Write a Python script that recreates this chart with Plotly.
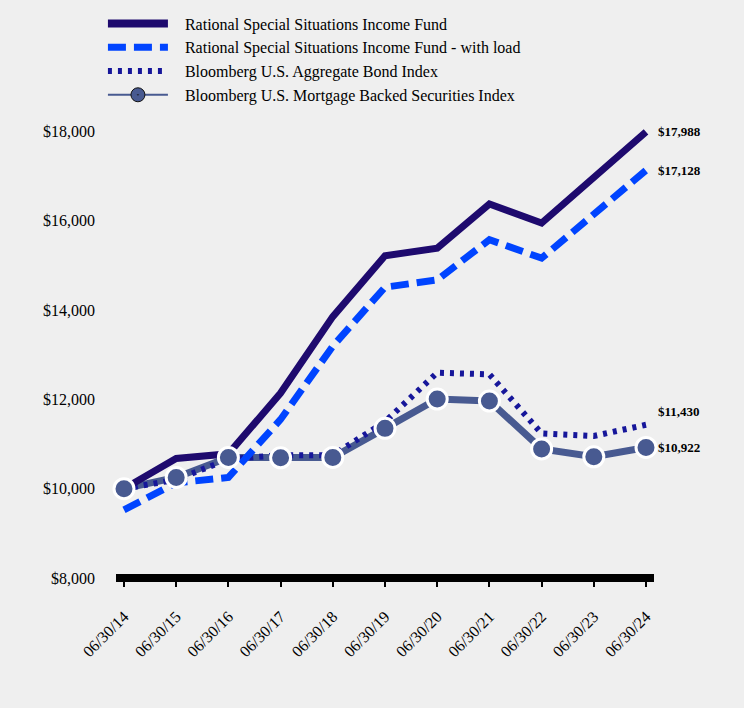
import plotly.graph_objects as go

dates = ["06/30/14", "06/30/15", "06/30/16", "06/30/17", "06/30/18", "06/30/19",
         "06/30/20", "06/30/21", "06/30/22", "06/30/23", "06/30/24"]
fund = [10000, 10677, 10780, 12140, 13852, 15213, 15386, 16372, 15946, 16955, 17988]
fund_load = [9525, 10130, 10251, 11550, 13190, 14511, 14675, 15572, 15161, 16132, 17128]
agg = [10000, 10200, 10660, 10750, 10750, 11498, 12596, 12560, 11238, 11180, 11430]
mbs = [10000, 10251, 10700, 10691, 10700, 11350, 12007, 11962, 10890, 10713, 10922]

names = ["Rational Special Situations Income Fund",
         "Rational Special Situations Income Fund - with load",
         "Bloomberg U.S. Aggregate Bond Index",
         "Bloomberg U.S. Mortgage Backed Securities Index"]
y_ticks = [8000, 10000, 12000, 14000, 16000, 18000]
y_ticktext = ["$8,000", "$10,000", "$12,000", "$14,000", "$16,000", "$18,000"]

C_FUND = "#1e0a6e"
C_LOAD = "#0044ff"
C_AGG = "#16169a"
C_MBS = "#485a91"
FONT = "Liberation Serif, Times New Roman, serif"
PAD = "\u00a0\u00a0\u00a0"

x = list(range(len(dates)))
fig = go.Figure()

# data traces (draw order: MBS line, agg, fund, load, MBS markers)
fig.add_trace(go.Scatter(x=x, y=mbs, mode="lines", line=dict(color=C_MBS, width=7),
                         showlegend=False, hoverinfo="skip"))
fig.add_trace(go.Scatter(x=x, y=agg, mode="lines", line=dict(color=C_AGG, width=6, dash="4px,6px"),
                         showlegend=False))
fig.add_trace(go.Scatter(x=x, y=fund, mode="lines", line=dict(color=C_FUND, width=7),
                         showlegend=False))
fig.add_trace(go.Scatter(x=x, y=fund_load, mode="lines", line=dict(color=C_LOAD, width=7, dash="18px,8px"),
                         showlegend=False))
fig.add_trace(go.Scatter(x=x, y=mbs, mode="markers",
                         marker=dict(color=C_MBS, size=20, line=dict(color="white", width=3)),
                         showlegend=False, cliponaxis=False))

# legend entries
fig.add_trace(go.Scatter(x=[None], y=[None], mode="lines", name=PAD + names[0],
                         line=dict(color=C_FUND, width=8)))
fig.add_trace(go.Scatter(x=[None], y=[None], mode="lines", name=PAD + names[1],
                         line=dict(color=C_LOAD, width=7, dash="18px,8px")))
fig.add_trace(go.Scatter(x=[None], y=[None], mode="lines", name=PAD + names[2],
                         line=dict(color=C_AGG, width=6, dash="4px,6px")))
fig.add_trace(go.Scatter(x=[None], y=[None], mode="lines+markers", name=PAD + names[3],
                         line=dict(color=C_MBS, width=2),
                         marker=dict(color=C_MBS, size=14, symbol="circle-dot",
                                     line=dict(color="#111111", width=1))))

# end labels
finals = [(fund[-1], 0), (fund_load[-1], 0), (agg[-1], 13), (mbs[-1], 0)]
for val, ys in finals:
    fig.add_annotation(x=x[-1], y=val, text="<b>${:,}</b>".format(val), showarrow=False,
                       xanchor="left", yanchor="middle", xshift=10, yshift=ys,
                       font=dict(family=FONT, size=13, color="black"))

# thick baseline centred on the bottom of the plot area
fig.add_shape(type="line", xref="paper", yref="paper", x0=0, x1=1, y0=0, y1=0,
              line=dict(color="black", width=8), layer="above")

fig.update_layout(
    width=744, height=708,
    paper_bgcolor="#efefef", plot_bgcolor="#efefef",
    margin=dict(l=116, r=90, t=109, b=130, autoexpand=False),
    font=dict(family=FONT, size=15, color="black"),
    showlegend=True,
    legend=dict(x=-0.0243, y=1.2186, xanchor="left", yanchor="top",
                bgcolor="rgba(0,0,0,0)", font=dict(family=FONT, size=16),
                itemwidth=60, tracegroupgap=0),
    xaxis=dict(range=[-0.153, 10.153], tickvals=x, ticktext=dates, tickangle=-45,
               showgrid=False, zeroline=False, showline=False,
               ticks="outside", ticklen=8, tickwidth=2, tickcolor="black",
               ticklabelstandoff=14, tickfont=dict(family=FONT, size=16)),
    yaxis=dict(range=[8000, 18500], tickvals=y_ticks, ticktext=y_ticktext,
               showgrid=False, zeroline=False, showline=False, ticks="",
               ticklabelstandoff=20, tickfont=dict(family=FONT, size=16)),
)

fig.write_html("out.html", config={"displayModeBar": False},
               post_script="document.body.style.margin='0';document.body.style.padding='0';")
